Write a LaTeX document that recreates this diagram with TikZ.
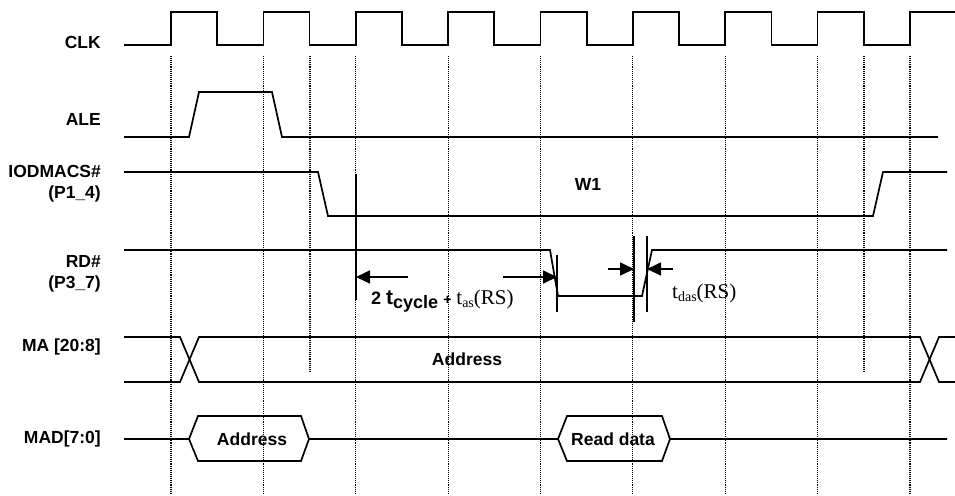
\documentclass[tikz,border=0pt]{standalone}
\usepackage{fontspec}
\setmainfont{Liberation Sans}
\newfontfamily\timesfont{Liberation Serif}
\usetikzlibrary{arrows.meta}

\begin{document}
\begin{tikzpicture}[x=1pt, y=-1pt,
  sig/.style={line width=1.7pt, line join=miter},
  grid/.style={densely dotted, line width=1.1pt},
  marker/.style={line width=1.7pt},
  dim/.style={line width=1.7pt, -{Triangle[length=14pt, width=13pt]}},
  lbl/.style={font=\fontsize{17.5}{21}\selectfont\bfseries, align=right, anchor=east, inner sep=0pt},
  txt/.style={font=\fontsize{17.5}{21}\selectfont\bfseries, inner sep=0pt}]
  \useasboundingbox (0,0) rectangle (955,495);
  % signal names
  \node[lbl] (clk) at (101,42) {CLK};
  \node[lbl] (ale) at (101,119) {ALE};
  \node[lbl] (cs) at (101,184) {IODMACS\#\\(P1\_4)};
  \node[lbl] (rd) at (101,274) {RD\#\\(P3\_7)};
  \node[lbl] (ma) at (101,347) {MA [20:8]};
  \node[lbl] (mad) at (101,439) {MAD[7:0]};
  % clock grid
  \foreach \k in {0,...,8}
    \draw[grid] ({171+\k*92.375},56) -- ({171+\k*92.375},493);
  \foreach \x in {310,864}
    \draw[grid] (\x,56) -- (\x,373);
  % waveforms
  \draw[sig] (124,45) foreach \k in {0,...,7} {-- ({171+\k*92.375},45) -- ++(0,-33) -- ++(46.19,0) -- ++(0,33)} -- (910,45) -- (910,12) -- (955,12);
  \draw[sig] (124,137) -- (189,137) -- (199,92) -- (272,92) -- (282,137) -- (938,137);
  \draw[sig] (124,172) -- (318,172) -- (328,216) -- (873,216) -- (883,172) -- (947,172);
  \draw[sig] (124,250) -- (550,250) -- (558,296) -- (642,296) -- (652,250) -- (947,250);
  \draw[sig] (124,337) -- (180,337) -- (199,382) -- (920,382) -- (939,337) -- (955,337);
  \draw[sig] (124,382) -- (180,382) -- (199,337) -- (920,337) -- (939,382) -- (955,382);
  \draw[sig] (124,439) -- (189,439) -- (198,416) -- (301,416) -- (309,439) -- (558,439)
    -- (567,416) -- (662,416) -- (670,439) -- (947,439);
  \draw[sig] (189,439) -- (198,461) -- (301,461) -- (309,439);
  \draw[sig] (558,439) -- (567,461) -- (662,461) -- (670,439);
  \node[txt] (w1) at (588,184) {W1};
  \node[txt] (addr) at (467,359) {Address};
  \node[txt] (addr2) at (252,439) {Address};
  \node[txt] (data) at (613,439) {Read data};
  % timing markers
  \coordinate (m1t) at (356,174);
  \coordinate (m1b) at (356,300);
  \coordinate (m2t) at (557,255);
  \coordinate (m2b) at (557,312);
  \coordinate (m3t) at (634,236);
  \coordinate (m3b) at (634,322);
  \coordinate (m4t) at (647,236);
  \coordinate (m4b) at (647,312);
  \draw[marker] (m1t) -- (m1b);
  \draw[marker] (m2t) -- (m2b);
  \draw[marker] (m3t) -- (m3b);
  \draw[marker] (m4t) -- (m4b);
  \coordinate (a1) at (408,277);
  \coordinate (a2) at (503,277);
  \coordinate (a3) at (608,269);
  \coordinate (a4) at (673,269);
  \draw[dim] (a1) -- (a1 -| m1t);
  \draw[dim] (a2) -- (a2 -| m2t);
  \draw[dim] (a3) -- (a3 -| m3t);
  \draw[dim] (a4) -- (a4 -| m4t);
  \node[anchor=base west, inner sep=0pt] (tcyc) at (371,304) {\bfseries\fontsize{18}{18}\selectfont 2 {\fontsize{21}{21}\selectfont t\raisebox{-4pt}{\fontsize{18}{18}\selectfont cycle}} {\fontsize{14}{14}\selectfont +} {\mdseries\timesfont\fontsize{21}{21}\selectfont t\raisebox{-3pt}{\fontsize{14}{14}\selectfont as}(RS)}};
  \node[anchor=base west, inner sep=0pt] (tdas) at (672,298) {\timesfont\fontsize{21}{21}\selectfont t\raisebox{-3pt}{\fontsize{14}{14}\selectfont das}(RS)};
\end{tikzpicture}
\end{document}
